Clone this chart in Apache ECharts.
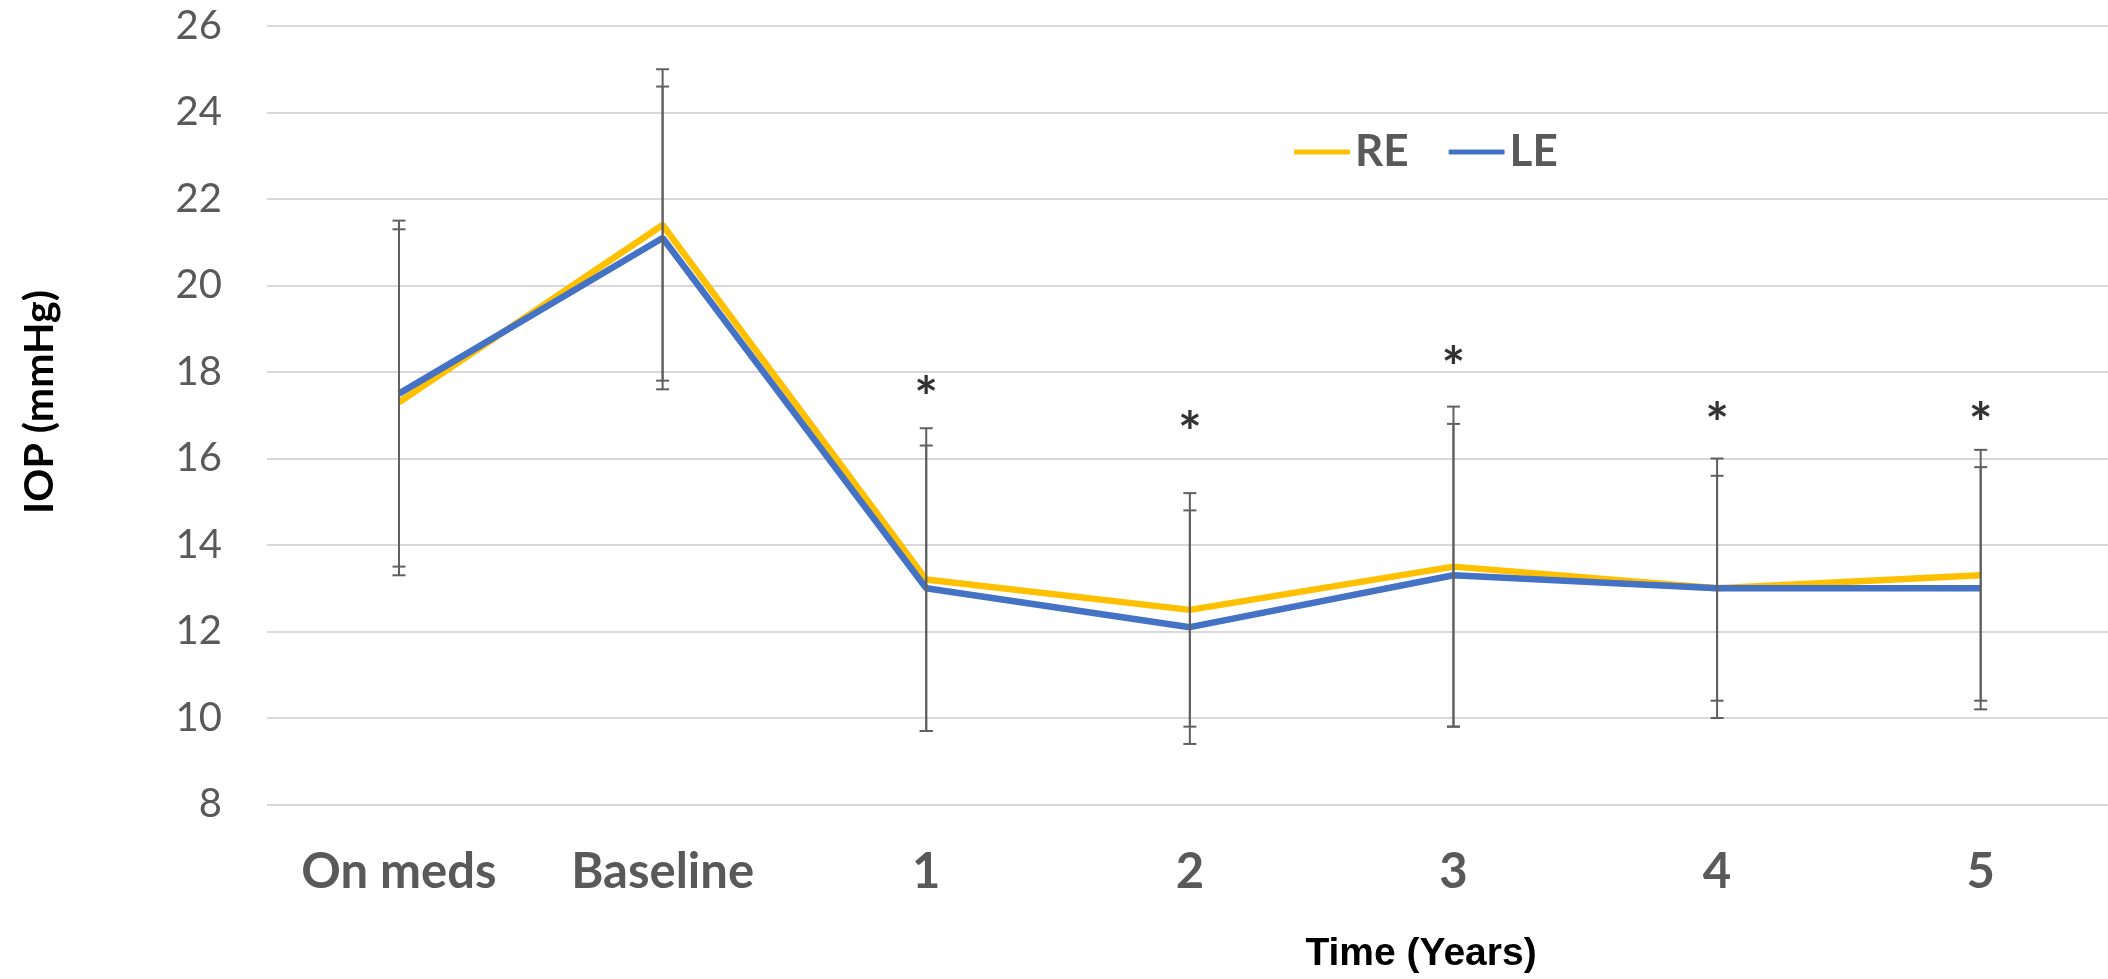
<!DOCTYPE html>
<html>
<head>
<meta charset="utf-8">
<script src="https://cdn.jsdelivr.net/npm/echarts@6/dist/echarts.min.js"></script>
<style>
html,body{margin:0;padding:0;background:#fff;}
#chart{width:2108px;height:979px;}
</style>
</head>
<body>
<div id="chart"></div>
<script>
const categories = ['On meds', 'Baseline', '1', '2', '3', '4', '5'];
const reMean = [17.3, 21.4, 13.2, 12.5, 13.5, 13.0, 13.3];
const reSD   = [4.0, 3.6, 3.5, 2.7, 3.7, 3.0, 2.9];
const leMean = [17.5, 21.1, 13.0, 12.1, 13.3, 13.0, 13.0];
const leSD   = [4.0, 3.5, 3.3, 2.7, 3.5, 2.6, 2.8];
// significance markers (asterisk positions, in mmHg)
const starPos = [null, null, 17.7, 16.9, 18.4, 17.1, 17.1];
const yTicks = {min: 8, max: 26, interval: 2};

const errColor = '#606060';
function errData(mean, sd) {
  return mean.map((m, i) => [i, +(m - sd[i]).toFixed(2), +(m + sd[i]).toFixed(2)]);
}
function renderErr(params, api) {
  const x = api.value(0);
  const lo = api.coord([x, api.value(1)]);
  const hi = api.coord([x, api.value(2)]);
  const cap = 6.5;
  const st = {stroke: errColor, lineWidth: 2};
  return {
    type: 'group',
    children: [
      {type: 'line', shape: {x1: hi[0], y1: hi[1], x2: lo[0], y2: lo[1]}, style: st},
      {type: 'line', shape: {x1: hi[0] - cap, y1: hi[1], x2: hi[0] + cap, y2: hi[1]}, style: st},
      {type: 'line', shape: {x1: lo[0] - cap, y1: lo[1], x2: lo[0] + cap, y2: lo[1]}, style: st}
    ]
  };
}

const chart = echarts.init(document.getElementById('chart'));
chart.setOption({
  animation: false,
  backgroundColor: '#ffffff',
  grid: [
    {left: 267, right: 0, top: 26, height: 778.5, containLabel: false},
    {left: 399, width: 1581.7, top: 26, height: 778.5, containLabel: false}
  ],
  legend: {
    left: 1289, top: 125,
    itemWidth: 56, itemHeight: 5, itemGap: 40,
    icon: 'roundRect',
    textStyle: {fontFamily: 'Lato', fontWeight: 'bold', fontSize: 44, color: '#595959'},
    data: ['RE', 'LE']
  },
  xAxis: [
    {type: 'value', gridIndex: 0, show: false, min: 0, max: 1},
    {
      type: 'category', gridIndex: 1,
      data: categories,
      boundaryGap: false,
      axisLine: {show: false},
      axisTick: {show: false},
      splitLine: {show: false},
      axisLabel: {fontFamily: 'Lato', fontWeight: 'bold', fontSize: 49, color: '#595959', margin: 43}
    }
  ],
  yAxis: [
    {
      type: 'value', gridIndex: 0,
      min: yTicks.min, max: yTicks.max, interval: yTicks.interval,
      axisLine: {show: false},
      axisTick: {show: false},
      splitLine: {lineStyle: {color: '#d9d9d9', width: 2}},
      axisLabel: {fontFamily: 'Lato', fontSize: 40, color: '#595959', margin: 45}
    },
    {
      type: 'value', gridIndex: 1,
      min: yTicks.min, max: yTicks.max, interval: yTicks.interval,
      show: false, splitLine: {show: false}
    }
  ],
  graphic: [
    {type: 'text', x: 40, y: 402, rotation: Math.PI / 2,
     style: {text: 'IOP (mmHg)', fontFamily: 'Lato', fontWeight: 'bold', fontSize: 41, fill: '#000',
             textAlign: 'center', textVerticalAlign: 'middle'}},
    {type: 'text', x: 1421, y: 954,
     style: {text: 'Time (Years)', fontFamily: 'Liberation Sans', fontWeight: 'bold', fontSize: 39, fill: '#000',
             textAlign: 'center', textVerticalAlign: 'middle'}}
  ],
  series: [
    {name: 'RE', type: 'line', xAxisIndex: 1, yAxisIndex: 1, data: reMean, showSymbol: false, symbol: 'none',
     color: '#FFC000', lineStyle: {color: '#FFC000', width: 6.5}, z: 2},
    {name: 'LE', type: 'line', xAxisIndex: 1, yAxisIndex: 1, data: leMean, showSymbol: false, symbol: 'none',
     color: '#4472C4', lineStyle: {color: '#4472C4', width: 6.5}, z: 3},
    {name: 'RE err', type: 'custom', xAxisIndex: 1, yAxisIndex: 1, renderItem: renderErr,
     data: errData(reMean, reSD), z: 4, silent: true},
    {name: 'LE err', type: 'custom', xAxisIndex: 1, yAxisIndex: 1, renderItem: renderErr,
     data: errData(leMean, leSD), z: 4, silent: true},
    {name: 'sig', type: 'scatter', xAxisIndex: 1, yAxisIndex: 1, symbolSize: 1,
     itemStyle: {color: 'transparent'}, z: 5,
     data: starPos.map((v, i) => v == null ? null : [i, v]).filter(d => d),
     label: {show: true, position: 'inside', formatter: '*', fontFamily: 'Lato', fontWeight: 'bold',
             fontSize: 56, color: '#000', offset: [0, 14]}}
  ]
});
</script>
</body>
</html>
